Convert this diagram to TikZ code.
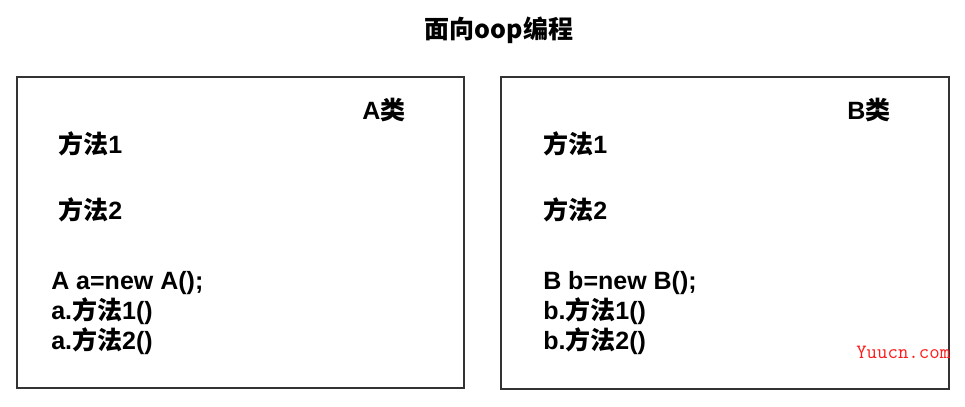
\documentclass[tikz,border=0pt]{standalone}
\usepackage{fontspec}
\setmainfont{Liberation Sans}
\newfontfamily\cjk{Noto Sans CJK SC}
\newcommand{\zh}[1]{{\cjk\bfseries #1}}
\begin{document}
\begin{tikzpicture}[x=0.75pt,y=-0.75pt,
  txt/.style={anchor=base west,inner sep=0pt,font=\fontsize{18.75}{22}\selectfont\bfseries},
  frame/.style={draw=black!80,line width=1pt}]
\useasboundingbox (0,0) rectangle (965,407);
\node[txt,anchor=base] (title) at (499,38) {\zh{面向oop编程}};
% box A
\draw[frame] (17,77) rectangle (464,388);
\node[txt] (acls) at (362,119) {A\zh{类}};
\node[txt] (am1) at (58,153) {\zh{方法}1};
\node[txt] (am2) at (58,219) {\zh{方法}2};
\node[txt] (ac1) at (51,289) {A a=new A();};
\node[txt] (ac2) at (51,319) {a.\zh{方法}1()};
\node[txt] (ac3) at (51,349) {a.\zh{方法}2()};
% box B
\draw[frame] (501,77) rectangle (949,389);
\node[txt] (bcls) at (847,119) {B\zh{类}};
\node[txt] (bm1) at (543,153) {\zh{方法}1};
\node[txt] (bm2) at (543,219) {\zh{方法}2};
\node[txt] (bc1) at (543,289) {B b=new B();};
\node[txt] (bc2) at (543,319) {b.\zh{方法}1()};
\node[txt] (bc3) at (543,349) {b.\zh{方法}2()};
% watermark
\node[anchor=base west,inner sep=0pt,text=red!90!white,font=\ttfamily\fontsize{15.2}{17}\selectfont] (wm) at (856,358) {Yuucn.com};
\end{tikzpicture}
\end{document}
